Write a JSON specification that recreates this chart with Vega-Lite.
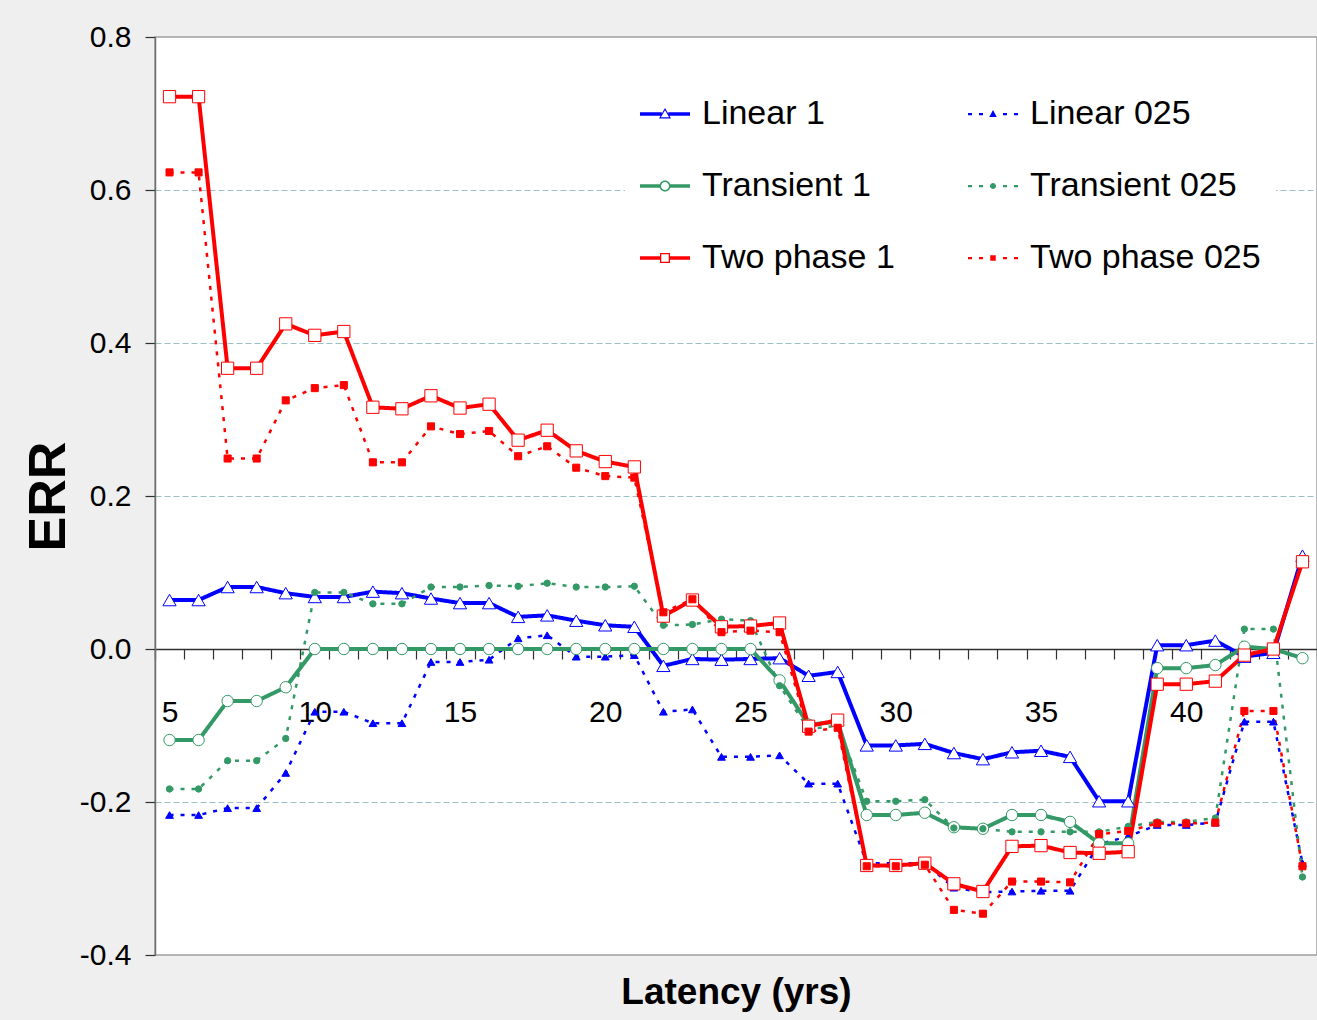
{
  "$schema": "https://vega.github.io/schema/vega-lite/v6.json",
  "width": 1162,
  "height": 918,
  "autosize": {"type": "none"},
  "padding": {"left": 155, "top": 37, "right": 0, "bottom": 65},
  "background": "#efefef",
  "config": {
    "view": {"fill": "white", "stroke": "#a0a0a0", "strokeWidth": 1.5},
    "font": "Liberation Sans",
    "axis": {"labelColor": "black", "titleColor": "black", "labelFont": "Liberation Sans", "titleFont": "Liberation Sans"}
  },
  "data": {
    "values": [
      {"x": 5, "Linear 1": 0.064, "Linear 025": -0.217, "Transient 1": -0.119, "Transient 025": -0.183, "Two phase 1": 0.722, "Two phase 025": 0.623},
      {"x": 6, "Linear 1": 0.064, "Linear 025": -0.217, "Transient 1": -0.119, "Transient 025": -0.183, "Two phase 1": 0.722, "Two phase 025": 0.623},
      {"x": 7, "Linear 1": 0.081, "Linear 025": -0.208, "Transient 1": -0.068, "Transient 025": -0.146, "Two phase 1": 0.367, "Two phase 025": 0.249},
      {"x": 8, "Linear 1": 0.081, "Linear 025": -0.208, "Transient 1": -0.068, "Transient 025": -0.146, "Two phase 1": 0.367, "Two phase 025": 0.249},
      {"x": 9, "Linear 1": 0.073, "Linear 025": -0.162, "Transient 1": -0.050, "Transient 025": -0.117, "Two phase 1": 0.425, "Two phase 025": 0.325},
      {"x": 10, "Linear 1": 0.068, "Linear 025": -0.082, "Transient 1": 0.0, "Transient 025": 0.074, "Two phase 1": 0.410, "Two phase 025": 0.341},
      {"x": 11, "Linear 1": 0.068, "Linear 025": -0.082, "Transient 1": 0.0, "Transient 025": 0.074, "Two phase 1": 0.415, "Two phase 025": 0.345},
      {"x": 12, "Linear 1": 0.075, "Linear 025": -0.097, "Transient 1": 0.0, "Transient 025": 0.059, "Two phase 1": 0.316, "Two phase 025": 0.244},
      {"x": 13, "Linear 1": 0.073, "Linear 025": -0.097, "Transient 1": 0.0, "Transient 025": 0.059, "Two phase 1": 0.314, "Two phase 025": 0.244},
      {"x": 14, "Linear 1": 0.066, "Linear 025": -0.017, "Transient 1": 0.0, "Transient 025": 0.081, "Two phase 1": 0.331, "Two phase 025": 0.291},
      {"x": 15, "Linear 1": 0.060, "Linear 025": -0.017, "Transient 1": 0.0, "Transient 025": 0.081, "Two phase 1": 0.315, "Two phase 025": 0.281},
      {"x": 16, "Linear 1": 0.060, "Linear 025": -0.014, "Transient 1": 0.0, "Transient 025": 0.083, "Two phase 1": 0.320, "Two phase 025": 0.285},
      {"x": 17, "Linear 1": 0.042, "Linear 025": 0.014, "Transient 1": 0.0, "Transient 025": 0.082, "Two phase 1": 0.273, "Two phase 025": 0.252},
      {"x": 18, "Linear 1": 0.044, "Linear 025": 0.018, "Transient 1": 0.0, "Transient 025": 0.086, "Two phase 1": 0.286, "Two phase 025": 0.265},
      {"x": 19, "Linear 1": 0.037, "Linear 025": -0.010, "Transient 1": 0.0, "Transient 025": 0.081, "Two phase 1": 0.259, "Two phase 025": 0.237},
      {"x": 20, "Linear 1": 0.031, "Linear 025": -0.010, "Transient 1": 0.0, "Transient 025": 0.081, "Two phase 1": 0.245, "Two phase 025": 0.226},
      {"x": 21, "Linear 1": 0.029, "Linear 025": -0.008, "Transient 1": 0.0, "Transient 025": 0.082, "Two phase 1": 0.238, "Two phase 025": 0.224},
      {"x": 22, "Linear 1": -0.022, "Linear 025": -0.082, "Transient 1": 0.0, "Transient 025": 0.031, "Two phase 1": 0.043, "Two phase 025": 0.048},
      {"x": 23, "Linear 1": -0.013, "Linear 025": -0.079, "Transient 1": 0.0, "Transient 025": 0.032, "Two phase 1": 0.064, "Two phase 025": 0.065},
      {"x": 24, "Linear 1": -0.014, "Linear 025": -0.141, "Transient 1": 0.0, "Transient 025": 0.039, "Two phase 1": 0.029, "Two phase 025": 0.022},
      {"x": 25, "Linear 1": -0.013, "Linear 025": -0.141, "Transient 1": 0.0, "Transient 025": 0.037, "Two phase 1": 0.030, "Two phase 025": 0.024},
      {"x": 26, "Linear 1": -0.012, "Linear 025": -0.139, "Transient 1": -0.041, "Transient 025": -0.048, "Two phase 1": 0.034, "Two phase 025": 0.022},
      {"x": 27, "Linear 1": -0.035, "Linear 025": -0.176, "Transient 1": -0.099, "Transient 025": -0.105, "Two phase 1": -0.101, "Two phase 025": -0.108},
      {"x": 28, "Linear 1": -0.030, "Linear 025": -0.176, "Transient 1": -0.095, "Transient 025": -0.100, "Two phase 1": -0.093, "Two phase 025": -0.103},
      {"x": 29, "Linear 1": -0.126, "Linear 025": -0.280, "Transient 1": -0.217, "Transient 025": -0.199, "Two phase 1": -0.283, "Two phase 025": -0.284},
      {"x": 30, "Linear 1": -0.126, "Linear 025": -0.280, "Transient 1": -0.217, "Transient 025": -0.199, "Two phase 1": -0.283, "Two phase 025": -0.284},
      {"x": 31, "Linear 1": -0.124, "Linear 025": -0.280, "Transient 1": -0.214, "Transient 025": -0.197, "Two phase 1": -0.280, "Two phase 025": -0.282},
      {"x": 32, "Linear 1": -0.136, "Linear 025": -0.312, "Transient 1": -0.233, "Transient 025": -0.234, "Two phase 1": -0.307, "Two phase 025": -0.341},
      {"x": 33, "Linear 1": -0.144, "Linear 025": -0.318, "Transient 1": -0.235, "Transient 025": -0.235, "Two phase 1": -0.317, "Two phase 025": -0.346},
      {"x": 34, "Linear 1": -0.135, "Linear 025": -0.317, "Transient 1": -0.217, "Transient 025": -0.239, "Two phase 1": -0.258, "Two phase 025": -0.304},
      {"x": 35, "Linear 1": -0.133, "Linear 025": -0.316, "Transient 1": -0.217, "Transient 025": -0.239, "Two phase 1": -0.257, "Two phase 025": -0.304},
      {"x": 36, "Linear 1": -0.141, "Linear 025": -0.316, "Transient 1": -0.226, "Transient 025": -0.239, "Two phase 1": -0.266, "Two phase 025": -0.305},
      {"x": 37, "Linear 1": -0.199, "Linear 025": -0.255, "Transient 1": -0.254, "Transient 025": -0.239, "Two phase 1": -0.267, "Two phase 025": -0.242},
      {"x": 38, "Linear 1": -0.199, "Linear 025": -0.245, "Transient 1": -0.254, "Transient 025": -0.232, "Two phase 1": -0.265, "Two phase 025": -0.238},
      {"x": 39, "Linear 1": 0.005, "Linear 025": -0.230, "Transient 1": -0.025, "Transient 025": -0.226, "Two phase 1": -0.046, "Two phase 025": -0.228},
      {"x": 40, "Linear 1": 0.005, "Linear 025": -0.230, "Transient 1": -0.025, "Transient 025": -0.226, "Two phase 1": -0.046, "Two phase 025": -0.228},
      {"x": 41, "Linear 1": 0.011, "Linear 025": -0.227, "Transient 1": -0.021, "Transient 025": -0.221, "Two phase 1": -0.042, "Two phase 025": -0.227},
      {"x": 42, "Linear 1": -0.010, "Linear 025": -0.095, "Transient 1": 0.003, "Transient 025": 0.026, "Two phase 1": -0.008, "Two phase 025": -0.081},
      {"x": 43, "Linear 1": -0.005, "Linear 025": -0.095, "Transient 1": 0.0, "Transient 025": 0.026, "Two phase 1": 0.0, "Two phase 025": -0.081},
      {"x": 44, "Linear 1": 0.122, "Linear 025": -0.280, "Transient 1": -0.012, "Transient 025": -0.298, "Two phase 1": 0.114, "Two phase 025": -0.284}
    ]
  },
  "transform": [
    {"fold": ["Linear 1", "Linear 025", "Transient 1", "Transient 025", "Two phase 1", "Two phase 025"], "as": ["series", "err"]}
  ],
  "encoding": {
    "x": {
      "field": "x",
      "type": "quantitative",
      "scale": {"domain": [4.5, 44.5], "nice": false, "zero": false},
      "axis": {
        "values": [4.5, 5.5, 6.5, 7.5, 8.5, 9.5, 10.5, 11.5, 12.5, 13.5, 14.5, 15.5, 16.5, 17.5, 18.5, 19.5, 20.5, 21.5, 22.5, 23.5, 24.5, 25.5, 26.5, 27.5, 28.5, 29.5, 30.5, 31.5, 32.5, 33.5, 34.5, 35.5, 36.5, 37.5, 38.5, 39.5, 40.5, 41.5, 42.5, 43.5, 44.5, 5, 10, 15, 20, 25, 30, 35, 40],
        "labelExpr": "datum.value % 5 === 0 ? format(datum.value, 'd') : ''",
        "tickOpacity": {"condition": {"test": "datum.value % 1 === 0", "value": 0}, "value": 1},
        "offset": -306,
        "grid": false,
        "domainColor": "#303030",
        "domainWidth": 1.5,
        "tickColor": "#303030",
        "tickSize": 10,
        "tickWidth": 1.2,
        "labelFontSize": 30,
        "labelPadding": 38,
        "labelOverlap": false,
        "labelFlush": false,
        "labelBound": false,
        "title": "Latency (yrs)",
        "titleFontSize": 37,
        "titleFontWeight": "bold",
        "titleY": 354,
        "titleBaseline": "alphabetic"
      }
    },
    "y": {
      "field": "err",
      "type": "quantitative",
      "scale": {"domain": [-0.4, 0.8], "nice": false, "zero": false},
      "axis": {
        "values": [-0.4, -0.2, 0, 0.2, 0.4, 0.6, 0.8],
        "labelExpr": "replace(format(datum.value, '.1f'), '\u2212', '-')",
        "labelFontSize": 30,
        "labelPadding": 14,
        "tickSize": 10,
        "tickColor": "#303030",
        "tickWidth": 1.2,
        "domainColor": "#707070",
        "domainWidth": 1.5,
        "grid": true,
        "gridColor": "#9cc0c6",
        "gridDash": [6, 3],
        "gridWidth": 1,
        "gridOpacity": {"condition": {"test": "abs(datum.value) < 0.01 || datum.value > 0.79 || datum.value < -0.39", "value": 0}, "value": 1},
        "title": "ERR",
        "titleFontSize": 52,
        "titleFontWeight": "bold",
        "titleAngle": -90,
        "titleX": -107,
        "titleY": 459,
        "titleAlign": "center",
        "titleBaseline": "middle"
      }
    }
  },
  "layer": [
    {
      "mark": {"type": "line"},
      "encoding": {
        "color": {
          "field": "series",
          "type": "nominal",
          "scale": {
            "domain": ["Linear 1", "Transient 1", "Two phase 1", "Linear 025", "Transient 025", "Two phase 025"],
            "range": ["#0000ff", "#339966", "#ff0000", "#0000ff", "#339966", "#ff0000"]
          },
          "legend": {
            "orient": "none",
            "legendX": 470,
            "legendY": 37,
            "columns": 2,
            "title": null,
            "fillColor": "white",
            "padding": 15,
            "symbolSize": 2500,
            "labelFontSize": 34,
            "labelFont": "Liberation Sans",
            "labelColor": "black",
            "labelOffset": 12,
            "labelLimit": 400,
            "rowPadding": 30,
            "columnPadding": 73,
            "encode": {
              "symbols": {
                "update": {
                  "shape": {"signal": "datum.value === 'Linear 1' ? 'M-1,-0.07H-0.13V0.07H-1Z M0.13,-0.07H1V0.07H0.13Z M0,-0.24L0.24,0.18L-0.24,0.18Z M0,-0.15L-0.165,0.13L0.165,0.13Z' : datum.value === 'Linear 025' ? 'M-1,-0.045H-0.84V0.045H-1Z M-0.56,-0.045H-0.4V0.045H-0.56Z M0.4,-0.045H0.56V0.045H0.4Z M0.84,-0.045H1V0.045H0.84Z M0,-0.16L0.15,0.12L-0.15,0.12Z' : datum.value === 'Transient 1' ? 'M-1,-0.07H-0.2V0.07H-1Z M0.2,-0.07H1V0.07H0.2Z M-0.22,0A0.22,0.22,0,1,1,0.22,0A0.22,0.22,0,1,1,-0.22,0Z M-0.16,0A0.16,0.16,0,1,0,0.16,0A0.16,0.16,0,1,0,-0.16,0Z' : datum.value === 'Transient 025' ? 'M-1,-0.045H-0.84V0.045H-1Z M-0.56,-0.045H-0.4V0.045H-0.56Z M0.4,-0.045H0.56V0.045H0.4Z M0.84,-0.045H1V0.045H0.84Z M-0.12,0A0.12,0.12,0,1,1,0.12,0A0.12,0.12,0,1,1,-0.12,0Z' : datum.value === 'Two phase 1' ? 'M-1,-0.07H-0.2V0.07H-1Z M0.2,-0.07H1V0.07H0.2Z M-0.2,-0.2H0.2V0.2H-0.2Z M-0.15,-0.15V0.15H0.15V-0.15Z' : 'M-1,-0.045H-0.84V0.045H-1Z M-0.56,-0.045H-0.4V0.045H-0.56Z M0.4,-0.045H0.56V0.045H0.4Z M0.84,-0.045H1V0.045H0.84Z M-0.11,-0.11H0.11V0.11H-0.11Z'"},
                  "fill": {"signal": "scale('color', datum.value)"},
                  "size": {"value": 2500},
                  "strokeWidth": {"value": 0},
                  "opacity": {"value": 1}
                }
              }
            }
          }
        },
        "strokeDash": {
          "field": "series",
          "type": "nominal",
          "scale": {
            "domain": ["Linear 1", "Linear 025", "Transient 1", "Transient 025", "Two phase 1", "Two phase 025"],
            "range": [[1, 0], [4, 7], [1, 0], [4, 7], [1, 0], [4, 7]]
          },
          "legend": null
        },
        "strokeWidth": {
          "field": "series",
          "type": "nominal",
          "scale": {
            "type": "ordinal",
            "domain": ["Linear 1", "Linear 025", "Transient 1", "Transient 025", "Two phase 1", "Two phase 025"],
            "range": [4, 2.5, 4, 2.5, 4, 2.5]
          },
          "legend": null
        }
      }
    },
    {
      "mark": {"type": "point", "filled": true, "strokeWidth": 1, "opacity": 1},
      "encoding": {
        "shape": {
          "field": "series",
          "type": "nominal",
          "scale": {
            "domain": ["Linear 1", "Linear 025", "Transient 1", "Transient 025", "Two phase 1", "Two phase 025"],
            "range": ["triangle-up", "triangle-up", "circle", "circle", "square", "square"]
          },
          "legend": null
        },
        "size": {
          "field": "series",
          "type": "nominal",
          "scale": {
            "type": "ordinal",
            "domain": ["Linear 1", "Linear 025", "Transient 1", "Transient 025", "Two phase 1", "Two phase 025"],
            "range": [175, 60, 130, 40, 150, 50]
          },
          "legend": null
        },
        "fill": {
          "field": "series",
          "type": "nominal",
          "scale": {
            "domain": ["Linear 1", "Linear 025", "Transient 1", "Transient 025", "Two phase 1", "Two phase 025"],
            "range": ["#ffffff", "#0000ff", "#ffffff", "#339966", "#ffffff", "#ff0000"]
          },
          "legend": null
        },
        "stroke": {
          "field": "series",
          "type": "nominal",
          "scale": {
            "domain": ["Linear 1", "Linear 025", "Transient 1", "Transient 025", "Two phase 1", "Two phase 025"],
            "range": ["#0000ff", "#0000ff", "#339966", "#339966", "#ff0000", "#ff0000"]
          },
          "legend": null
        }
      }
    }
  ]
}
